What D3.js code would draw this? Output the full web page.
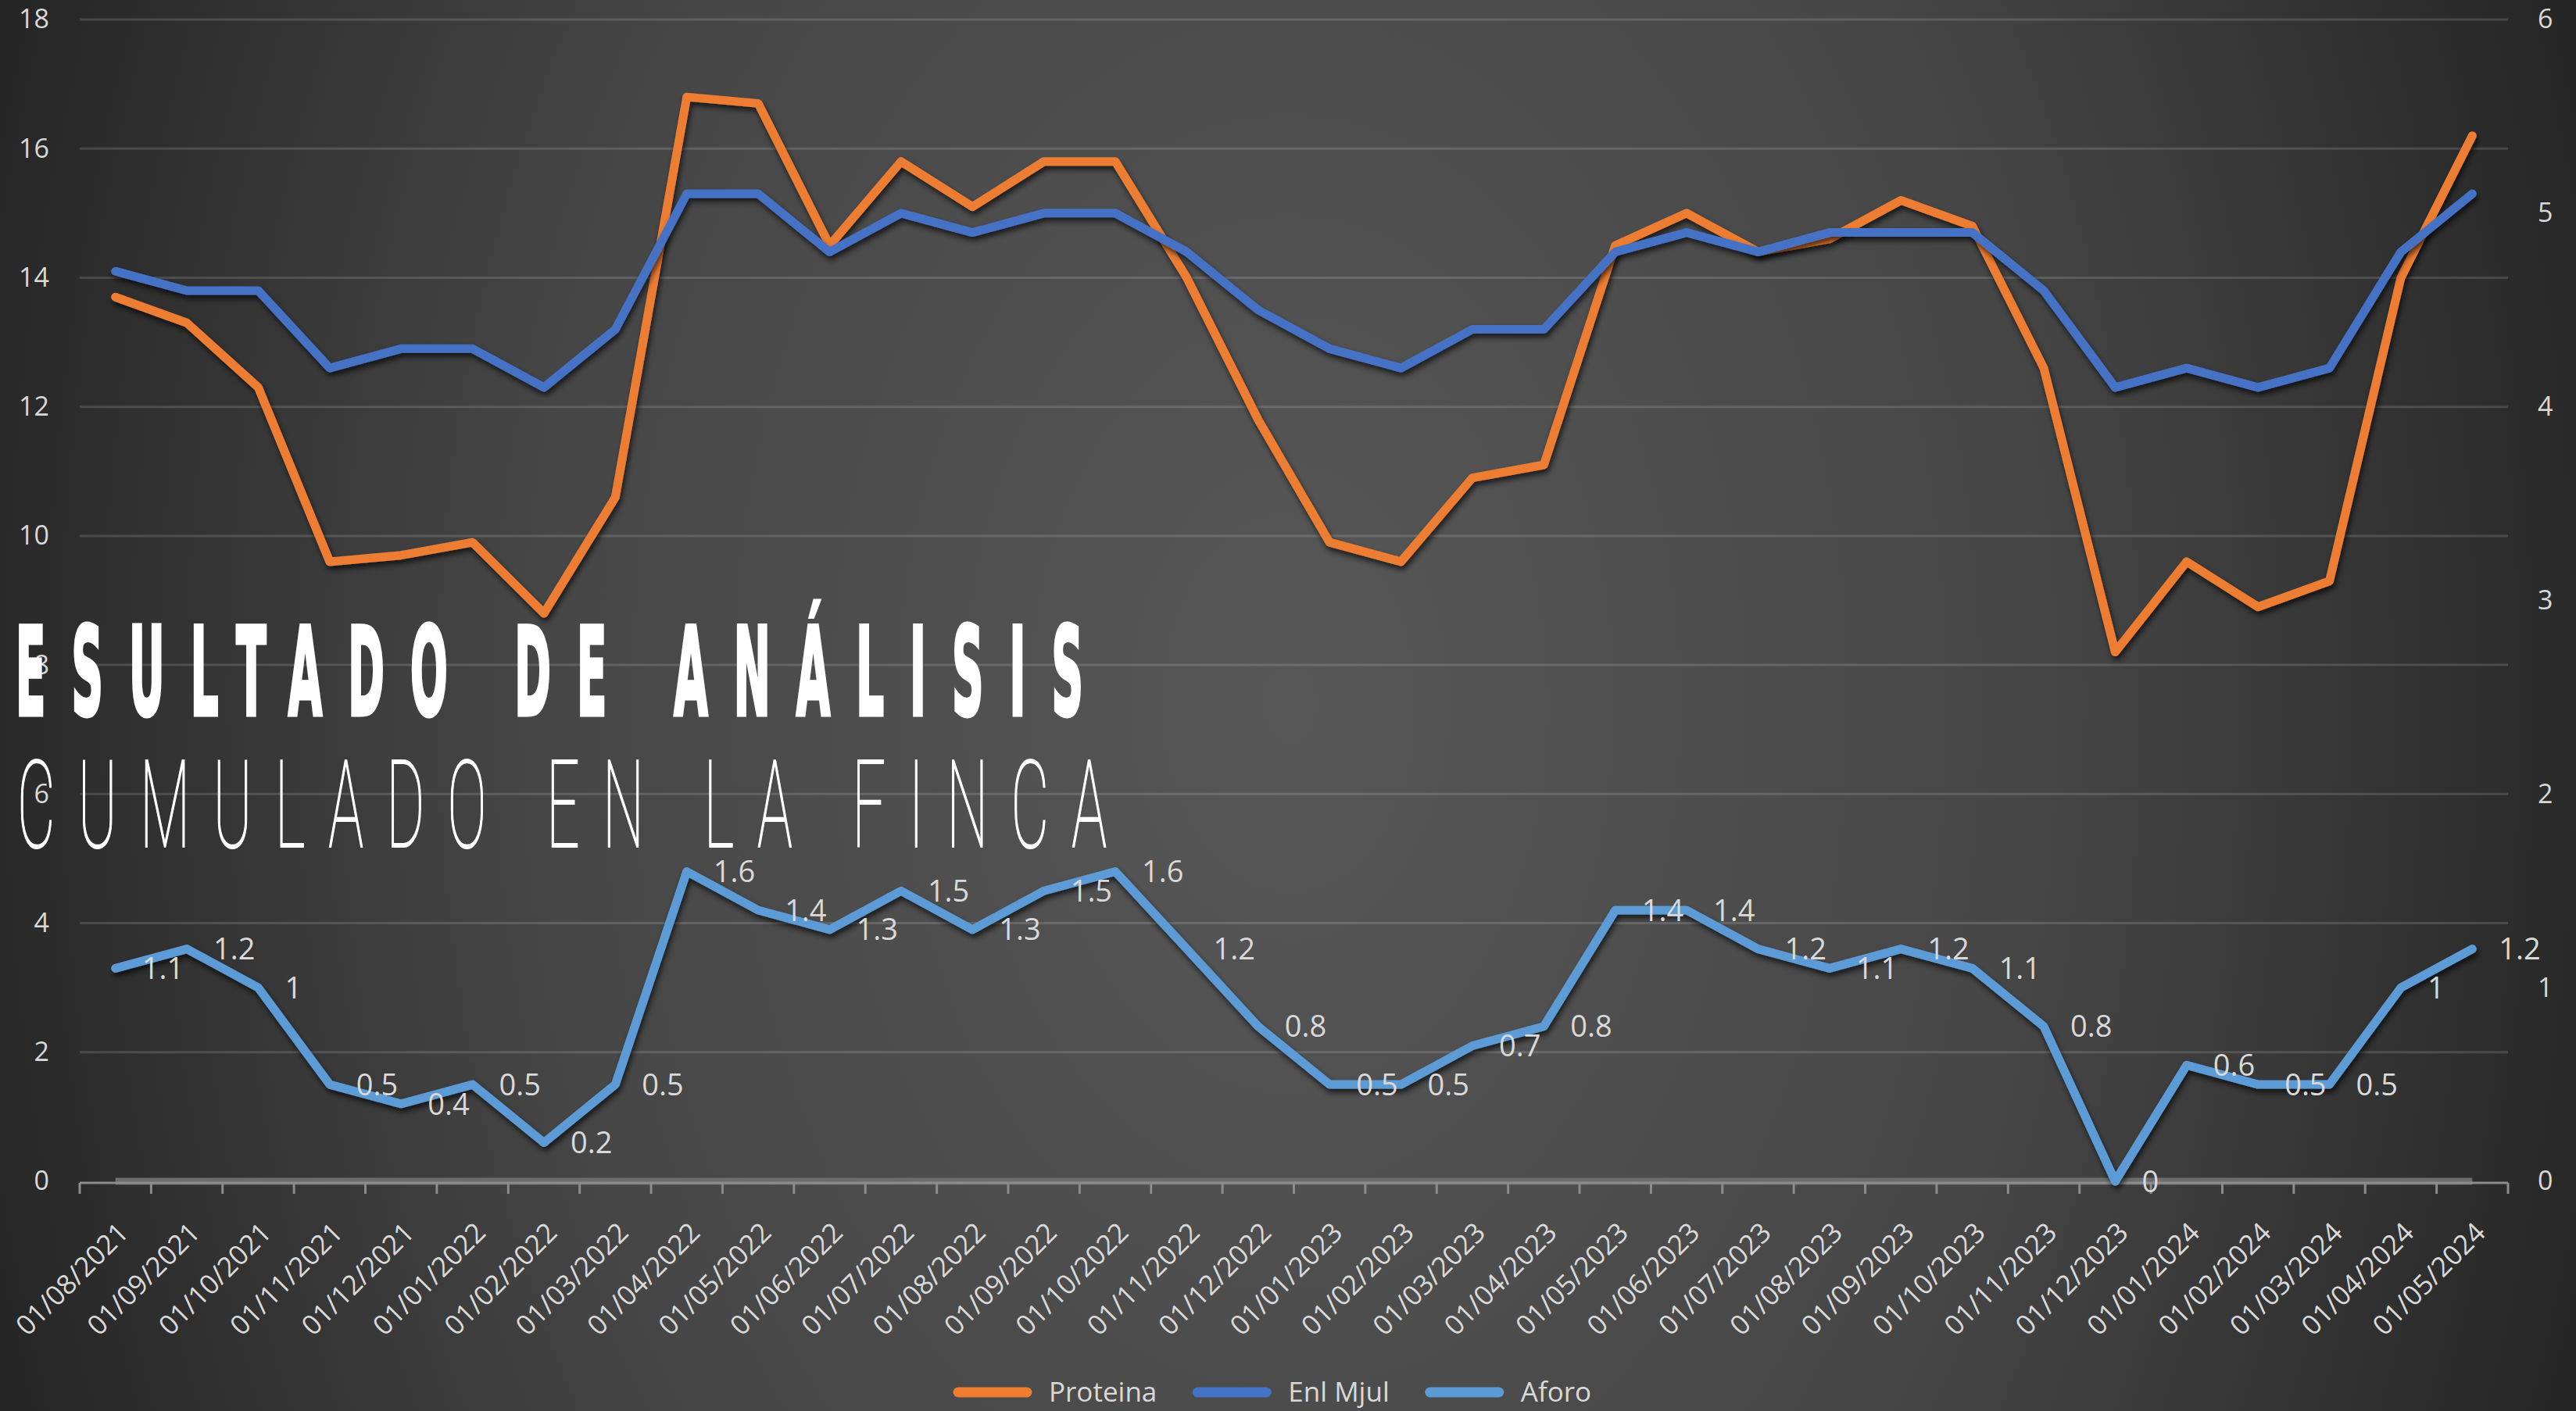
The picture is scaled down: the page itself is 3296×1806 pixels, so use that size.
<!DOCTYPE html>
<html>
<head>
<meta charset="utf-8">
<script src="https://cdn.jsdelivr.net/npm/d3@7"></script>
<style>
  html, body { margin: 0; padding: 0; background: #2a2a2a; }
  svg { display: block; }
</style>
</head>
<body>
<div id="chart"></div>
<script>
/* global d3 */

// Datos
const fechas = ['01/08/2021', '01/09/2021', '01/10/2021', '01/11/2021', '01/12/2021',
  '01/01/2022', '01/02/2022', '01/03/2022', '01/04/2022', '01/05/2022', '01/06/2022',
  '01/07/2022', '01/08/2022', '01/09/2022', '01/10/2022', '01/11/2022', '01/12/2022',
  '01/01/2023', '01/02/2023', '01/03/2023', '01/04/2023', '01/05/2023', '01/06/2023',
  '01/07/2023', '01/08/2023', '01/09/2023', '01/10/2023', '01/11/2023', '01/12/2023',
  '01/01/2024', '01/02/2024', '01/03/2024', '01/04/2024', '01/05/2024']

// eje izquierdo
const proteina = [13.7, 13.3, 12.3, 9.6, 9.7, 9.9, 8.8, 10.6, 16.8, 16.7, 14.5, 15.8,
  15.1, 15.8, 15.8, 14.0, 11.8, 9.9, 9.6, 10.9, 11.1, 14.5, 15.0, 14.4, 14.6, 15.2,
  14.8, 12.6, 8.2, 9.6, 8.9, 9.3, 14.0, 16.2]

// eje derecho
const enlMjul = [4.7, 4.6, 4.6, 4.2, 4.3, 4.3, 4.1, 4.4, 5.1, 5.1, 4.8, 5.0, 4.9, 5.0,
  5.0, 4.8, 4.5, 4.3, 4.2, 4.4, 4.4, 4.8, 4.9, 4.8, 4.9, 4.9, 4.9, 4.6, 4.1, 4.2,
  4.1, 4.2, 4.8, 5.1]
const aforo = [1.1, 1.2, 1, 0.5, 0.4, 0.5, 0.2, 0.5, 1.6, 1.4, 1.3, 1.5, 1.3, 1.5, 1.6,
  1.2, 0.8, 0.5, 0.5, 0.7, 0.8, 1.4, 1.4, 1.2, 1.1, 1.2, 1.1, 0.8, 0, 0.6, 0.5, 0.5,
  1, 1.2]

const nombres = ['Proteina', 'Enl Mjul', 'Aforo']
const ticksIzq = [0, 2, 4, 6, 8, 10, 12, 14, 16, 18]
const ticksDer = [0, 1, 2, 3, 4, 5, 6]

const titulo1 = 'ESULTADO DE ANÁLISIS'
const titulo2 = 'CUMULADO EN LA FINCA'

// Lienzo
const width = 3296,
    height = 1806,
    mLeft = 102,
    mRight = 3209,
    mTop = 25,
    mBottom = 1512

const colores = ['#ED7D31', '#4472C4', '#5B9BD5']
const textColor = '#d9d9d9'
const fuente = '"Open Sans", "DejaVu Sans", sans-serif'

let svg = d3.select('#chart')
    .append('svg')
    .attr('width', width)
    .attr('height', height)

let defs = svg.append('defs')

let grad = defs.append('radialGradient')
    .attr('id', 'fondo')
    .attr('gradientUnits', 'userSpaceOnUse')
    .attr('cx', 1650).attr('cy', 900).attr('r', 1750)
    .attr('gradientTransform', 'translate(1650,900) scale(1,1.5) translate(-1650,-900)')
grad.append('stop').attr('offset', '0%').attr('stop-color', '#575757')
grad.append('stop').attr('offset', '55%').attr('stop-color', '#464646')
grad.append('stop').attr('offset', '100%').attr('stop-color', '#252525')

let sombra = defs.append('filter')
    .attr('id', 'sombra')
    .attr('x', '-5%').attr('y', '-5%').attr('width', '110%').attr('height', '110%')
sombra.append('feDropShadow')
    .attr('dx', 2).attr('dy', 5)
    .attr('stdDeviation', 3.5)
    .attr('flood-color', '#000')
    .attr('flood-opacity', 0.65)

svg.append('rect')
    .attr('width', width)
    .attr('height', height)
    .attr('fill', 'url(#fondo)')

// Escalas
const x = d3.scaleBand()
    .domain(fechas)
    .range([mLeft, mRight])
const cx = (d) => x(d) + x.bandwidth() / 2

const yIzq = d3.scaleLinear().domain([0, 18]).range([mBottom, mTop])
const yDer = d3.scaleLinear().domain([0, 6]).range([mBottom, mTop])

// Rejilla
svg.append('g')
    .selectAll('line')
    .data(ticksIzq.filter(d => d > 0))
    .enter()
    .append('line')
    .attr('x1', mLeft)
    .attr('x2', mRight)
    .attr('y1', d => yIzq(d))
    .attr('y2', d => yIzq(d))
    .attr('stroke', '#ffffff')
    .attr('stroke-opacity', 0.14)
    .attr('stroke-width', 3)

// Eje izquierdo
let ejeIzq = svg.append('g')
    .attr('transform', `translate(${mLeft - 39},0)`)
    .call(d3.axisLeft(yIzq).tickValues(ticksIzq).tickSize(0).tickPadding(0))
ejeIzq.select('.domain').remove()
ejeIzq.selectAll('text')
    .attr('font-family', fuente)
    .attr('font-size', 34)
    .attr('fill', textColor)

// Eje derecho
let ejeDer = svg.append('g')
    .attr('transform', `translate(${mRight + 38},0)`)
    .call(d3.axisRight(yDer).tickValues(ticksDer).tickFormat(d3.format('d'))
        .tickSize(0).tickPadding(0))
ejeDer.select('.domain').remove()
ejeDer.selectAll('text')
    .attr('font-family', fuente)
    .attr('font-size', 34)
    .attr('fill', textColor)

// Eje de categorias
svg.append('line')
    .attr('x1', cx(fechas[0]))
    .attr('x2', cx(fechas[fechas.length - 1]))
    .attr('y1', yIzq(0))
    .attr('y2', yIzq(0))
    .attr('stroke', '#6c6c6c')
    .attr('stroke-width', 9)

let ejeX = svg.append('g')
    .attr('transform', `translate(0,${mBottom})`)
ejeX.append('line')
    .attr('x1', mLeft)
    .attr('x2', mRight)
    .attr('y1', 2)
    .attr('y2', 2)
    .attr('stroke', '#8c8c8c')
    .attr('stroke-width', 3)
ejeX.selectAll('.tick')
    .data(fechas.concat(['fin']))
    .enter()
    .append('line')
    .attr('x1', (d, i) => i < fechas.length ? x(d) : mRight)
    .attr('x2', (d, i) => i < fechas.length ? x(d) : mRight)
    .attr('y1', 2)
    .attr('y2', 16)
    .attr('stroke', '#8c8c8c')
    .attr('stroke-width', 3)

ejeX.selectAll('text')
    .data(fechas)
    .enter()
    .append('text')
    .attr('transform', d => `translate(${cx(d) + 1},${50}) rotate(-45)`)
    .attr('text-anchor', 'end')
    .attr('dy', '0.72em')
    .attr('font-family', fuente)
    .attr('font-size', 35)
    .attr('fill', textColor)
    .text(d => d)

// Lineas
const series = [
    { nombre: nombres[0], valores: proteina, y: yIzq },
    { nombre: nombres[1], valores: enlMjul, y: yDer },
    { nombre: nombres[2], valores: aforo, y: yDer }
]

series.forEach((s, k) => {
    let linea = d3.line()
        .x((d, i) => cx(fechas[i]))
        .y(d => s.y(d))

    svg.append('path')
        .datum(s.valores)
        .attr('d', linea)
        .attr('fill', 'none')
        .attr('stroke', colores[k])
        .attr('stroke-width', 11)
        .attr('stroke-linejoin', 'round')
        .attr('stroke-linecap', 'round')
        .attr('filter', 'url(#sombra)')
})

// Etiquetas de Aforo
svg.append('g')
    .selectAll('text')
    .data(aforo)
    .enter()
    .append('text')
    .attr('x', (d, i) => cx(fechas[i]) + 34)
    .attr('y', d => yDer(d))
    .attr('dy', '0.36em')
    .attr('font-family', fuente)
    .attr('font-size', 38)
    .attr('fill', textColor)
    .text(d => d)

// Titulo superpuesto
let t1 = svg.append('g')
    .attr('transform', 'translate(20,915) scale(0.40,1)')
t1.append('text')
    .attr('font-family', '"DejaVu Sans Condensed", "DejaVu Sans", sans-serif')
    .attr('font-weight', 'bold')
    .attr('font-size', 156)
    .attr('fill', '#ffffff')
    .attr('stroke', '#ffffff')
    .attr('stroke-width', 5)
    .attr('textLength', 1366 / 0.40)
    .attr('lengthAdjust', 'spacing')
    .text(titulo1)

let t2 = svg.append('g')
    .attr('transform', 'translate(22,1084) scale(0.48,1)')
t2.append('text')
    .attr('font-family', 'Roboto, Lato, "Open Sans", sans-serif')
    .attr('font-weight', 100)
    .attr('font-size', 156)
    .attr('fill', '#ffffff')
    .attr('stroke', '#ffffff')
    .attr('stroke-width', 2)
    .attr('textLength', 1394 / 0.48)
    .attr('lengthAdjust', 'spacing')
    .text(titulo2)

// Leyenda
let leyenda = svg.append('g')
    .attr('transform', 'translate(1220,1782)')
let pos = 0
nombres.forEach((n, k) => {
    let item = leyenda.append('g')
        .attr('transform', `translate(${pos},0)`)
    item.append('line')
        .attr('x1', 6)
        .attr('x2', 94)
        .attr('stroke', colores[k])
        .attr('stroke-width', 13)
        .attr('stroke-linecap', 'round')
    let txt = item.append('text')
        .attr('x', 122)
        .attr('dy', '0.34em')
        .attr('font-family', fuente)
        .attr('font-size', 35)
        .attr('fill', textColor)
        .text(n)
    pos += 122 + txt.node().getComputedTextLength() + 46
})
</script>
</body>
</html>
